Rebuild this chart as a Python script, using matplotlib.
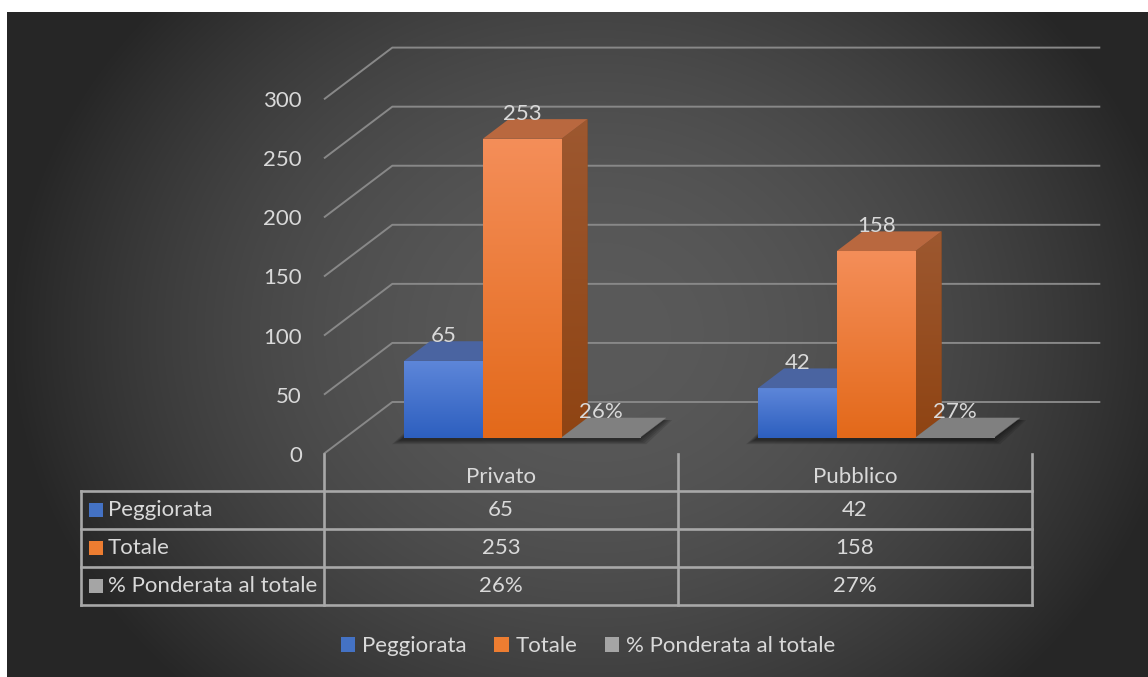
import numpy as np
import matplotlib
matplotlib.use("Agg")
import matplotlib.pyplot as plt
from matplotlib.patches import Polygon, Patch
from matplotlib.colors import LinearSegmentedColormap, to_rgb

plt.rcParams["font.family"] = ["Lato", "DejaVu Sans"]

# ---- data -------------------------------------------------------------
categories = ["Privato", "Pubblico"]
series_names = ["Peggiorata", "Totale", "% Ponderata al totale"]
peggiorata = [65, 42]
totale = [253, 158]
ponderata = [0.26, 0.27]          # share of the total (fraction)
value_ticks = [0, 50, 100, 150, 200, 250, 300]

series_values = [peggiorata, totale, ponderata]
value_labels = [[str(v) for v in peggiorata],
                [str(v) for v in totale],
                [f"{round(v * 100)}%" for v in ponderata]]

# ---- style ------------------------------------------------------------
TEXT = "#d9d9d9"
GRID = "#888888"
TABLE_LINE = "#a8a8a8"
FS = 16
front_grad = [("#5d86d9", "#2d5fbf"), ("#f48e59", "#e3691a"), ("#8a8a8a", "#7a7a7a")]
top_col = ["#4a64a1", "#b9683f", "#808080"]
side_grad = [("#34508f", "#2a4580"), ("#9d5830", "#8f4413"), ("#6a6a6a", "#5e5e5e")]
swatch = ["#4472c4", "#ed7d31", "#a5a5a5"]

W, H = 1148, 677
fig = plt.figure(figsize=(W / 100, H / 100), dpi=100, facecolor="white")

# ---- radial background -------------------------------------------------
bg = fig.add_axes([7 / W, 0, (W - 7) / W, (H - 12) / H])
bg.set_axis_off()
yy, xx = np.mgrid[0:665, 0:1141]
r = np.sqrt(((xx - 590) / 590.0) ** 2 + ((yy - 320) / 500.0) ** 2)
f = np.clip(r, 0, 1) ** 1.9
inner, outer = np.array(to_rgb("#5a5a5a")), np.array(to_rgb("#262626"))
img = inner[None, None, :] * (1 - f[..., None]) + outer[None, None, :] * f[..., None]
bg.imshow(img, aspect="auto", extent=[0, 1, 0, 1], origin="upper")
bg.set_xlim(0, 1)
bg.set_ylim(0, 1)

# ---- main (front plane) axes -----------------------------------------
x_left_px, x_right_px = 324, 1032
y0_px, y300_px = 453.7, 99.3
ax = fig.add_axes([x_left_px / W, (H - y0_px) / H,
                   (x_right_px - x_left_px) / W, (y0_px - y300_px) / H])
ax.patch.set_alpha(0)
for s in ax.spines.values():
    s.set_visible(False)
ax.set_xticks([])
ax.set_yticks(value_ticks)
ax.set_yticklabels([str(t) for t in value_ticks])
ax.tick_params(axis="y", length=0, pad=16.0, labelcolor=TEXT, labelsize=FS)

px_per_cat = (x_right_px - x_left_px) / len(categories)
px_per_val = (y0_px - y300_px) / 300.0
DX = 68.3 / px_per_cat       # full depth, horizontal (category units)
DY = 51.7 / px_per_val       # full depth, vertical (value units)
D0, D1 = 0.31, 0.69          # depth span of the bars
bar_w = 78.7 / px_per_cat


def proj(x, v, d):
    return (x + d * DX, v + d * DY)


# back wall + side wall gridlines
for t in value_ticks:
    pts = [proj(-0.5, t, 0), proj(-0.5, t, 1), proj(1.5, t, 1)]
    ax.plot([p[0] for p in pts], [p[1] for p in pts], color=GRID, lw=1.4,
            clip_on=False, zorder=1, solid_capstyle="butt")


def gradient_fill(patch, c_top, c_bot, zorder):
    ax.add_patch(patch)
    verts = patch.get_xy() if isinstance(patch, Polygon) else None
    if verts is None:
        bb = patch.get_bbox()
        x0, x1, y0, y1 = bb.x0, bb.x1, bb.y0, bb.y1
    else:
        x0, x1 = verts[:, 0].min(), verts[:, 0].max()
        y0, y1 = verts[:, 1].min(), verts[:, 1].max()
    cmap = LinearSegmentedColormap.from_list("g", [c_bot, c_top])
    grad = np.linspace(0, 1, 128)[:, None]
    im = ax.imshow(grad, cmap=cmap, extent=[x0, x1, y0, y1], origin="lower",
                   aspect="auto", zorder=zorder, interpolation="bilinear")
    im.set_clip_path(patch)
    im.set_clip_on(True)


offsets = [-bar_w, 0.0, bar_w]
z = 3
for i, cat in enumerate(categories):
    # soft floor shadow under the group
    gx0 = i + offsets[0] - bar_w / 2
    gx1 = i + offsets[-1] + bar_w / 2
    for e in [9, 7, 5, 3, 1.5]:
        ex, ev = e / px_per_cat, e / px_per_val
        sx, sv = -3 / px_per_cat, -2 / px_per_val
        poly = [proj(gx0 - ex + sx, -ev * 0.5 + sv, D0), proj(gx1 + ex + sx, -ev * 0.5 + sv, D0),
                proj(gx1 + ex + sx, sv, D1), proj(gx0 - ex + sx, sv, D1)]
        ax.add_patch(Polygon(poly, closed=True, facecolor="black", edgecolor="none",
                             alpha=0.12, zorder=2, clip_on=False))

    for s in range(len(series_names)):
        v = series_values[s][i]
        xc = i + offsets[s]
        x0, x1 = xc - bar_w / 2, xc + bar_w / 2
        # right side face
        side = Polygon([proj(x1, 0, D0), proj(x1, v, D0), proj(x1, v, D1), proj(x1, 0, D1)],
                       closed=True, facecolor=side_grad[s][1], edgecolor="none",
                       zorder=z, clip_on=False)
        gradient_fill(side, side_grad[s][0], side_grad[s][1], z)
        z += 1
        # front face
        bars = ax.bar(xc + D0 * DX, v, width=bar_w, bottom=D0 * DY,
                      color=front_grad[s][1], edgecolor="none", zorder=z)
        gradient_fill(bars.patches[0], front_grad[s][0], front_grad[s][1], z)
        z += 1
        # top face
        top = Polygon([proj(x0, v, D0), proj(x1, v, D0), proj(x1, v, D1), proj(x0, v, D1)],
                      closed=True, facecolor=top_col[s], edgecolor="none",
                      zorder=z, clip_on=False)
        ax.add_patch(top)
        z += 1

# value labels
for i in range(len(categories)):
    for s in range(len(series_names)):
        v = series_values[s][i]
        xc = i + offsets[s] + D0 * DX
        ax.text(xc, v + D1 * DY - 0.5 / px_per_val, value_labels[s][i], ha="center",
                va="baseline", color=TEXT, fontsize=FS, zorder=200, clip_on=False)

ax.set_xlim(-0.5, 1.5)
ax.set_ylim(0, 300)

# ---- data table ------------------------------------------------------
tab_left_px, tab_bottom_px = 81, 604.7
tab = fig.add_axes([tab_left_px / W, (H - tab_bottom_px) / H,
                    (x_right_px - tab_left_px) / W, (tab_bottom_px - y0_px) / H])
tab.set_axis_off()
xl = -0.5 - (x_left_px - tab_left_px) / px_per_cat
tab.set_xlim(xl, 1.5)
tab.set_ylim(4, 0)
lk = dict(color=TABLE_LINE, lw=1.9, solid_capstyle="projecting", clip_on=False)
for r_ in [1, 2, 3, 4]:
    tab.plot([xl, 1.5], [r_, r_], **lk)
tab.plot([xl, xl], [1, 4], **lk)
for xv in [-0.5, 0.5, 1.5]:
    tab.plot([xv, xv], [0, 4], **lk)

for i, cat in enumerate(categories):
    tab.text(i, 0.62, cat, ha="center", va="center", color=TEXT, fontsize=FS)
for s, name in enumerate(series_names):
    yrow = s + 1.5
    tab.plot([xl + 15 / px_per_cat], [yrow], marker="s", markersize=9.6,
             color=swatch[s], markeredgewidth=0, clip_on=False)
    tab.text(xl + 27 / px_per_cat, yrow, name, ha="left", va="center",
             color=TEXT, fontsize=FS)
    for i in range(len(categories)):
        tab.text(i, yrow, value_labels[s][i], ha="center", va="center",
                 color=TEXT, fontsize=FS)

# ---- legend ------------------------------------------------------------
handles = [Patch(facecolor=swatch[s], edgecolor="none") for s in range(len(series_names))]
fig.legend(handles, series_names, loc="center", bbox_to_anchor=(588 / W, 1 - 646 / H),
           ncol=3, frameon=False, handlelength=0.65, handleheight=0.65,
           handletextpad=0.3, columnspacing=1.25, labelcolor=TEXT, fontsize=FS)

fig.savefig("out.png", dpi=100, facecolor="white")
